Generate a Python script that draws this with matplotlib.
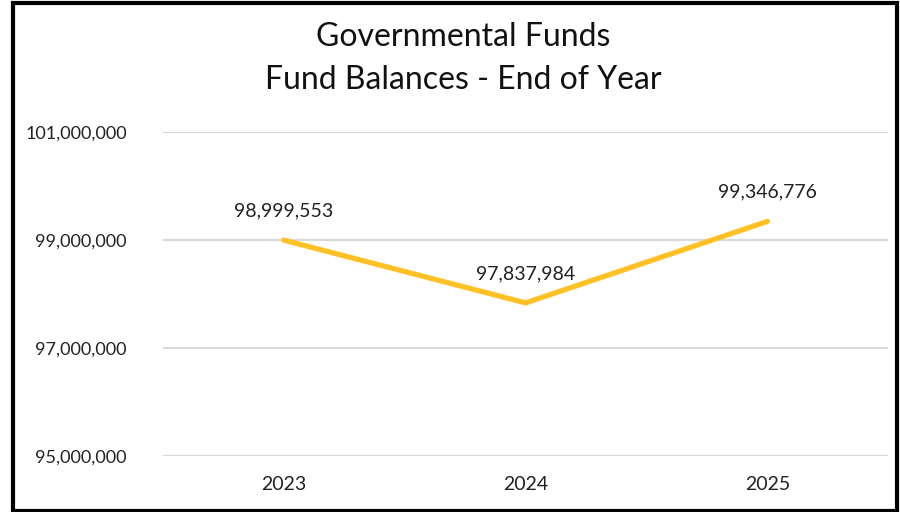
import matplotlib
matplotlib.use('Agg')
import matplotlib.pyplot as plt
from matplotlib.patches import Rectangle
from matplotlib.ticker import FuncFormatter

# Data
years = ['2023', '2024', '2025']
balances = [98999553, 97837984, 99346776]
y_ticks = [95000000, 97000000, 99000000, 101000000]

plt.rcParams['font.family'] = ['Lato', 'DejaVu Sans']

fig = plt.figure(figsize=(9, 5.12), dpi=100)
ax = fig.add_axes([0.181, 0.109, 0.806, 0.633])

x = list(range(len(years)))
ax.plot(x, balances, color='#FFC125', linewidth=3.8, solid_capstyle='round', zorder=3)

# Data labels above each point
for xi, v in zip(x, balances):
    ax.annotate(f'{v:,}', (xi, v), xytext=(0, 21), textcoords='offset points',
                ha='center', va='center', fontsize=14, color='#222222')

ax.set_xlim(-0.5, 2.5)
ax.set_ylim(95000000, 101000000)
ax.set_xticks(x)
ax.set_xticklabels(years)
ax.set_yticks(y_ticks)
ax.yaxis.set_major_formatter(FuncFormatter(lambda v, p: f'{int(v):,}'))
ax.tick_params(axis='y', length=0, labelsize=13, colors='#222222', pad=26)
ax.tick_params(axis='x', length=0, labelsize=14, colors='#222222', pad=14)
ax.grid(axis='y', color='#D9D9D9', linewidth=1.5)
ax.set_axisbelow(True)
for s in ax.spines.values():
    s.set_visible(False)

fig.text(0.515, 0.928, 'Governmental Funds', ha='center', va='center', fontsize=23, color='#111111')
fig.text(0.515, 0.843, 'Fund Balances - End of Year', ha='center', va='center', fontsize=23, color='#111111')

# Black frame around the chart
fig.patches.append(Rectangle((13 / 900, 1.5 / 512), 884 / 900, 507.5 / 512, transform=fig.transFigure,
                             fill=False, edgecolor='black', linewidth=3))

fig.savefig('out.png', dpi=100)
